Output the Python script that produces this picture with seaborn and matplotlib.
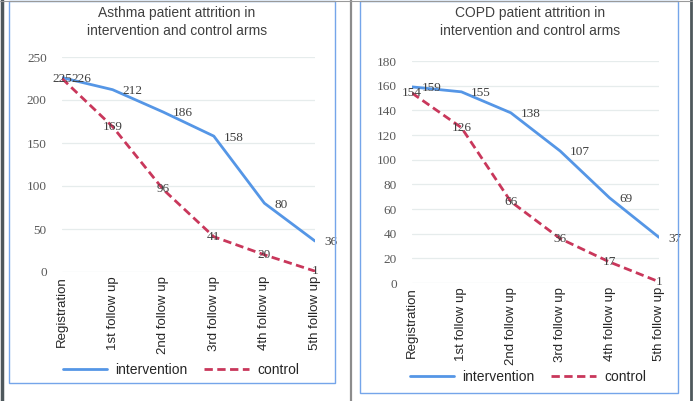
import pandas as pd
import matplotlib
matplotlib.use('Agg')
import matplotlib.pyplot as plt
from matplotlib.patches import Rectangle
from matplotlib.lines import Line2D
import seaborn as sns

# Data
stages = ['Registration', '1st follow up', '2nd follow up',
          '3rd follow up', '4th follow up', '5th follow up']
asthma_intervention = [226, 212, 186, 158, 80, 36]
asthma_control = [225, 169, 96, 41, 20, 1]
copd_intervention = [159, 155, 138, 107, 69, 37]
copd_control = [154, 126, 66, 36, 17, 1]

asthma_ticks = [0, 50, 100, 150, 200, 250]
copd_ticks = [0, 20, 40, 60, 80, 100, 120, 140, 160, 180]

blue = '#5596E6'
red = '#C9375B'
palette = {'intervention': blue, 'control': red}
dashes = {'intervention': '', 'control': (3, 1.6)}


def make_df(interv, ctrl):
    n = len(stages)
    return pd.DataFrame({
        'step': list(range(n)) * 2,
        'patients': interv + ctrl,
        'arm': ['intervention'] * n + ['control'] * n,
    })


sns.set_theme(style='white')
plt.rcParams['font.family'] = ['Liberation Sans', 'DejaVu Sans']

fig = plt.figure(figsize=(6.93, 4.01), dpi=100)
W, H = 693, 401


def px_axes(x0, x1, ytop, ybot):
    return fig.add_axes([x0 / W, 1 - ybot / H, (x1 - x0) / W, (ybot - ytop) / H])


# panel frames and separators
fig.patches.append(Rectangle((9 / W, 1 - 383 / H), 326 / W, 382 / H, fill=False,
                             ec='#75A5EA', lw=1.0, transform=fig.transFigure))
fig.patches.append(Rectangle((360 / W, 1 - 393 / H), 318 / W, 392 / H, fill=False,
                             ec='#75A5EA', lw=1.0, transform=fig.transFigure))
for xp, col, lw in [(1.5, '#4E585C', 2.5), (351, '#8C8C8C', 1.6), (690.5, '#4E585C', 2.0)]:
    fig.lines.append(Line2D([xp / W, xp / W], [0, 1], color=col, lw=lw,
                            transform=fig.transFigure))
fig.lines.append(Line2D([0, 1], [1 - 0.5 / H, 1 - 0.5 / H], color='#9A9A9A', lw=0.8,
                        transform=fig.transFigure))

panels = [
    dict(title='Asthma patient attrition in\nintervention and control arms',
         interv=asthma_intervention, ctrl=asthma_control, ticks=asthma_ticks,
         box=(62, 315, 57, 272), title_x=177, legend_xy=(181, 370)),
    dict(title='COPD patient attrition in\nintervention and control arms',
         interv=copd_intervention, ctrl=copd_control, ticks=copd_ticks,
         box=(412, 659, 61, 283), title_x=530, legend_xy=(528, 377)),
]

for p in panels:
    ax = px_axes(*p['box'])
    df = make_df(p['interv'], p['ctrl'])
    sns.lineplot(data=df, x='step', y='patients', hue='arm', style='arm',
                 palette=palette, dashes=dashes, lw=2.0, ax=ax, legend=False)
    ax.set_xlim(0, len(stages) - 1)
    ax.set_ylim(p['ticks'][0], p['ticks'][-1])
    ax.set_yticks(p['ticks'])
    ax.set_yticklabels([str(t) for t in p['ticks']], family='Liberation Serif',
                       fontsize=9.5, color='#595959')
    ax.set_xticks(range(len(stages)))
    ax.set_xticklabels(stages, rotation=90, fontsize=9.5, color='#262626', va='top')
    ax.tick_params(axis='y', length=0, pad=11)
    ax.tick_params(axis='x', length=0, pad=3)
    ax.set_xlabel('')
    ax.set_ylabel('')
    ax.grid(axis='y', color='#E6ECEC', lw=0.9)
    ax.set_axisbelow(True)
    for s in ax.spines.values():
        s.set_visible(False)

    # data labels: intervention to the right, control centred
    for i, v in enumerate(p['interv']):
        ax.annotate(str(v), (i, v), xytext=(7, -1), textcoords='offset points',
                    ha='left', va='center', fontsize=9.5, family='Liberation Serif',
                    color='#404040')
    for i, v in enumerate(p['ctrl']):
        ax.annotate(str(v), (i, v), ha='center', va='center', fontsize=9.5,
                    family='Liberation Serif', color='#404040')

    fig.text(p['title_x'] / W, 1 - 22 / H, p['title'], ha='center', va='center',
             fontsize=10, color='#404040', linespacing=1.3)

    handles = [Line2D([], [], color=blue, lw=2.0),
               Line2D([], [], color=red, lw=2.0, dashes=(3, 1.6))]
    fig.legend(handles, ['intervention', 'control'], loc='center',
               bbox_to_anchor=(p['legend_xy'][0] / W, 1 - p['legend_xy'][1] / H),
               ncol=2, frameon=False, fontsize=10, handlelength=3.2,
               handletextpad=0.6, columnspacing=1.2, labelcolor='#262626')

fig.savefig('out.png', dpi=100, facecolor='white')
